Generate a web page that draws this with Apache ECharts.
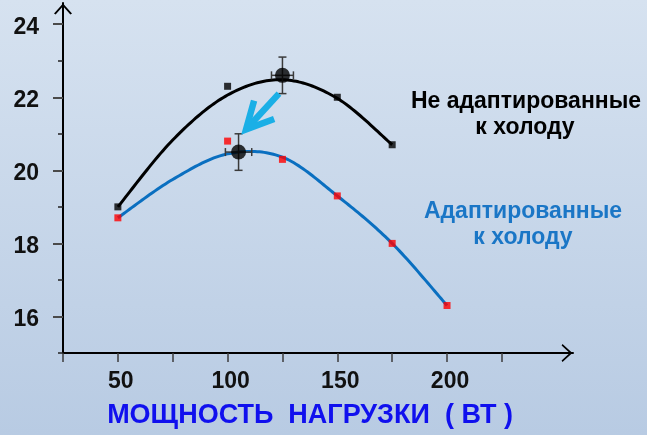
<!DOCTYPE html>
<html>
<head>
<meta charset="utf-8">
<script src="https://cdn.jsdelivr.net/npm/echarts@6/dist/echarts.min.js"></script>
<style>
  html, body { margin: 0; padding: 0; }
  #chart { width: 647px; height: 435px; background: linear-gradient(180deg, #d6e2f0 0%, #b8cbe3 100%); }
</style>
</head>
<body>
<div id="chart"></div>
<script>
// Axis ticks and labels (load in W on x)
const xTicks = [25, 50, 75, 100, 125, 150, 175, 200, 225];
const xLabels = [50, 100, 150, 200];
const yMajor = [16, 18, 20, 22, 24];
const yMinor = [15, 17, 19, 21, 23];

// Measured points: not cold-adapted (black) and cold-adapted (red)
const loadNon = [50, 100, 150, 175];
const valueNon = [19.0, 22.3, 22.0, 20.7];
const loadAd = [50, 100, 125, 150, 175, 200];
const valueAd = [18.7, 20.8, 20.3, 19.3, 18.0, 16.3];

// Fitted trend curves
const trendLoadNon = [50, 75, 100, 125, 150, 175];
const trendValueNon = [19.0, 20.83, 22.06, 22.48, 21.97, 20.7];
const trendLoadAd = [50, 75, 100, 125, 150, 175, 200];
const trendValueAd = [18.7, 19.75, 20.45, 20.36, 19.3, 18.0, 16.3];

// Optimum points with spread: load, value, ±load, ±value
const optLoad = [125, 105];
const optValue = [22.6, 20.5];
const optLoadErr = [5, 6];
const optValueErr = [0.5, 0.5];

// Pointer from the upper optimum down to the lower one: [tail, head]
const pointerTail = [123.4, 22.1];
const pointerHead = [108.4, 21.12];

const FONT = '"Liberation Sans", Arial, Helvetica, sans-serif';
const BLUE = '#0a6fc0';

const zip = (xs, ys) => xs.map((x, i) => [x, ys[i]]);

// Smooth trend line: Catmull-Rom spline through the trend points in pixel space
function splineSeries(xs, ys, color) {
  return {
    type: 'custom', z: 2,
    encode: { x: 0, y: 1 },
    data: zip(xs, ys),
    renderItem: function (params, api) {
      if (params.dataIndex !== 0) return null;
      const P = xs.map((x, i) => api.coord([x, ys[i]]));
      const pts = [];
      const n = P.length;
      for (let i = 0; i < n - 1; i++) {
        const p0 = P[Math.max(i - 1, 0)], p1 = P[i], p2 = P[i + 1], p3 = P[Math.min(i + 2, n - 1)];
        for (let k = 0; k < 24; k++) {
          const t = k / 24, t2 = t * t, t3 = t2 * t;
          const f = (a, b, c, d) => 0.5 * ((2 * b) + (-a + c) * t + (2 * a - 5 * b + 4 * c - d) * t2 + (-a + 3 * b - 3 * c + d) * t3);
          pts.push([f(p0[0], p1[0], p2[0], p3[0]), f(p0[1], p1[1], p2[1], p3[1])]);
        }
      }
      pts.push(P[n - 1]);
      return { type: 'polyline', shape: { points: pts }, style: { stroke: color, lineWidth: 3, fill: null, lineJoin: 'round' } };
    }
  };
}

const chart = echarts.init(document.getElementById('chart'), null, { renderer: 'canvas' });

const chevron = 'path://M0,11 L10,0 L20,11 L18.2,12 L10,3 L1.8,12 Z';

chart.setOption({
  backgroundColor: 'transparent',
  animation: false,
  grid: { left: 63, top: 3, right: 74, bottom: 82, containLabel: false, outerBoundsMode: 'none' },
  xAxis: {
    type: 'value', min: 25, max: 257.4,
    axisLine: { show: true, lineStyle: { color: '#000', width: 2 }, symbol: ['none', chevron], symbolSize: [18, 13], symbolOffset: [0, -6] },
    axisTick: { show: true, length: 9, customValues: xTicks, lineStyle: { color: '#3c3c3c', width: 1.5 } },
    axisLabel: { customValues: xLabels, margin: 17, color: '#111', fontSize: 23, fontWeight: 'bold', fontFamily: FONT, padding: [0, 0, 0, 6] },
    splitLine: { show: false }
  },
  yAxis: [{
    type: 'value', min: 15, max: 24.58,
    axisLine: { show: true, lineStyle: { color: '#000', width: 2 }, symbol: ['none', chevron], symbolSize: [18, 12], symbolOffset: [0, -6] },
    axisTick: { show: true, length: 10, customValues: yMajor, lineStyle: { color: '#4a4a4a', width: 2 } },
    axisLabel: {
      customValues: yMajor, margin: 24,
      formatter: '{v|{value}}',
      rich: { v: { color: '#111', fontSize: 23, fontWeight: 'bold', fontFamily: FONT, padding: [7, 0, 0, 0] } }
    },
    splitLine: { show: false }
  }, {
    type: 'value', min: 15, max: 24.58, position: 'left', offset: 0,
    axisLine: { show: false },
    axisTick: { show: true, length: 5, customValues: yMinor, lineStyle: { color: '#222', width: 1.5 } },
    axisLabel: { show: false },
    splitLine: { show: false }
  }],
  series: [
    splineSeries(trendLoadNon, trendValueNon, '#000'),
    splineSeries(trendLoadAd, trendValueAd, BLUE),
    {
      type: 'scatter', symbol: 'rect', symbolSize: 7, z: 3,
      itemStyle: { color: '#000' },
      data: zip(loadNon, valueNon)
    },
    {
      type: 'scatter', symbol: 'rect', symbolSize: 7, z: 3,
      itemStyle: { color: '#ff0000' },
      data: zip(loadAd, valueAd)
    },
    {
      type: 'custom', z: 4,
      encode: { x: 0, y: 1 },
      data: optLoad.map((x, i) => [x, optValue[i], optLoadErr[i], optValueErr[i]]),
      renderItem: function (params, api) {
        const x = api.value(0), y = api.value(1), ex = api.value(2), ey = api.value(3);
        const top = api.coord([x, y + ey]);
        const bot = api.coord([x, y - ey]);
        const lft = api.coord([x - ex, y]);
        const rgt = api.coord([x + ex, y]);
        const cap = 4;
        const st = { stroke: '#3a3a3a', lineWidth: 1.5, fill: null };
        const seg = (x1, y1, x2, y2) => ({ type: 'line', shape: { x1, y1, x2, y2 }, style: st });
        return {
          type: 'group',
          children: [
            seg(top[0], top[1], bot[0], bot[1]),
            seg(top[0] - cap, top[1], top[0] + cap, top[1]),
            seg(bot[0] - cap, bot[1], bot[0] + cap, bot[1]),
            seg(lft[0], lft[1], rgt[0], rgt[1]),
            seg(lft[0], lft[1] - cap, lft[0], lft[1] + cap),
            seg(rgt[0], rgt[1] - cap, rgt[0], rgt[1] + cap)
          ]
        };
      }
    },
    {
      type: 'scatter', symbol: 'circle', symbolSize: 15, z: 5,
      itemStyle: { color: '#000' },
      data: zip(optLoad, optValue)
    },
    {
      type: 'custom', z: 6,
      encode: { x: [0, 2], y: [1, 3] },
      data: [[pointerTail[0], pointerTail[1], pointerHead[0], pointerHead[1]]],
      renderItem: function (params, api) {
        const a = api.coord([api.value(0), api.value(1)]);
        const b = api.coord([api.value(2), api.value(3)]);
        const ang = Math.atan2(a[1] - b[1], a[0] - b[0]);
        const len = 30, spread = 27 * Math.PI / 180;
        const p1 = [b[0] + len * Math.cos(ang + spread), b[1] + len * Math.sin(ang + spread)];
        const p2 = [b[0] + len * Math.cos(ang - spread), b[1] + len * Math.sin(ang - spread)];
        const st = { stroke: '#1aafe6', lineWidth: 6.5, fill: null, lineJoin: 'miter', lineCap: 'butt' };
        return {
          type: 'group',
          children: [
            { type: 'line', shape: { x1: a[0], y1: a[1], x2: b[0] + 3 * Math.cos(ang), y2: b[1] + 3 * Math.sin(ang) }, style: st },
            { type: 'polyline', shape: { points: [p1, b, p2] }, style: st }
          ]
        };
      }
    }
  ],
  graphic: [
    { type: 'text', x: 526, y: 102, style: { text: 'Не адаптированные', fill: '#000', font: 'bold 23px ' + FONT, align: 'center', verticalAlign: 'middle' } },
    { type: 'text', x: 525, y: 128, style: { text: 'к холоду', fill: '#000', font: 'bold 23px ' + FONT, align: 'center', verticalAlign: 'middle' } },
    { type: 'text', x: 523, y: 212, style: { text: 'Адаптированные', fill: '#1a76c6', font: 'bold 23px ' + FONT, align: 'center', verticalAlign: 'middle' } },
    { type: 'text', x: 523, y: 238, style: { text: 'к холоду', fill: '#1a76c6', font: 'bold 23px ' + FONT, align: 'center', verticalAlign: 'middle' } },
    { type: 'text', x: 310, y: 416, style: { text: 'МОЩНОСТЬ  НАГРУЗКИ  ( ВТ )', fill: '#1010ee', font: 'bold 27px ' + FONT, align: 'center', verticalAlign: 'middle' } }
  ]
});
</script>
</body>
</html>
